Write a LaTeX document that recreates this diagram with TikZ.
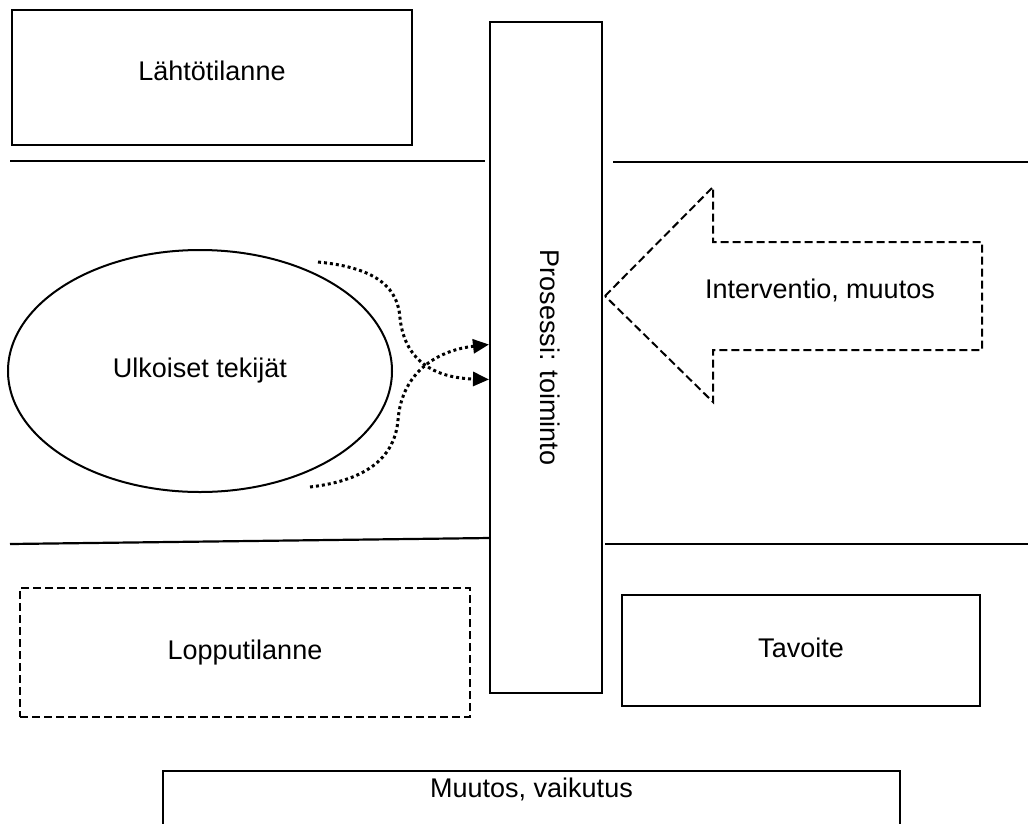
\documentclass[tikz,border=0pt]{standalone}
\usepackage{fontspec}
\setmainfont{Liberation Sans}
\usetikzlibrary{shapes.geometric, arrows.meta, calc}

\begin{document}
\begin{tikzpicture}[x=1pt, y=-1pt, >={Triangle[length=16pt, width=14pt]},
  every node/.style={font=\fontsize{27}{32}\selectfont},
  box/.style={draw, line width=2pt, inner sep=0pt},
  dashbox/.style={box, dash pattern=on 8pt off 4pt},
  divider/.style={line width=2.2pt},
  dotline/.style={line width=3pt, dash pattern=on 3pt off 3pt}]
  \useasboundingbox (0,0) rectangle (1028,823);

  % ylin rivi
  \node[box, minimum width=400pt, minimum height=135pt, text depth=14pt] (start) at (212,77.5) {Lähtötilanne};

  % prosessi keskellä
  \node[box, minimum width=112pt, minimum height=671pt] (process) at (546,357.5) {};
  \node[rotate=-90] (processtext) at (550,357.5) {Prosessi: toiminto};

  % jakoviivat
  \draw[divider] (10,161) -- (485,161);
  \draw[divider] (613,162) -- (1028,162);
  \draw[divider] (10,544) -- (490,538);
  \draw[divider] (605,544) -- (1028,544);

  % ulkoiset tekijät
  \node[box, ellipse, minimum width=384pt, minimum height=242pt] (external) at (200,371) {Ulkoiset tekijät};
  \coordinate (ext1) at (318,262);
  \coordinate (ext2) at (310,487);
  \draw[dotline, ->] (ext1) .. controls (380,268) and (398,290) .. (400,318)
    .. controls (405,365) and (440,378) .. ($(process.west)+(0,22)$);
  \draw[dotline, ->] (ext2) .. controls (370,480) and (395,455) .. (398,420)
    .. controls (402,370) and (440,350) .. ($(process.west)+(0,-13)$);

  % interventio
  \draw[line width=2pt, dash pattern=on 8pt off 4pt] (605,296) -- (713,187) -- (713,242) -- (982,242)
    -- (982,350) -- (713,350) -- (713,402) -- cycle;
  \node (intervention) at (820,290) {Interventio, muutos};

  % alin rivi
  \node[dashbox, minimum width=450pt, minimum height=129pt, text depth=6pt] (final) at (245,652.5) {Lopputilanne};
  \node[box, minimum width=358pt, minimum height=111pt, text depth=6pt] (goal) at (801,650.5) {Tavoite};
  \node[box, anchor=north, minimum width=737pt, inner ysep=7pt, text depth=50pt] (change) at (531.5,770) {Muutos, vaikutus};

\end{tikzpicture}
\end{document}
